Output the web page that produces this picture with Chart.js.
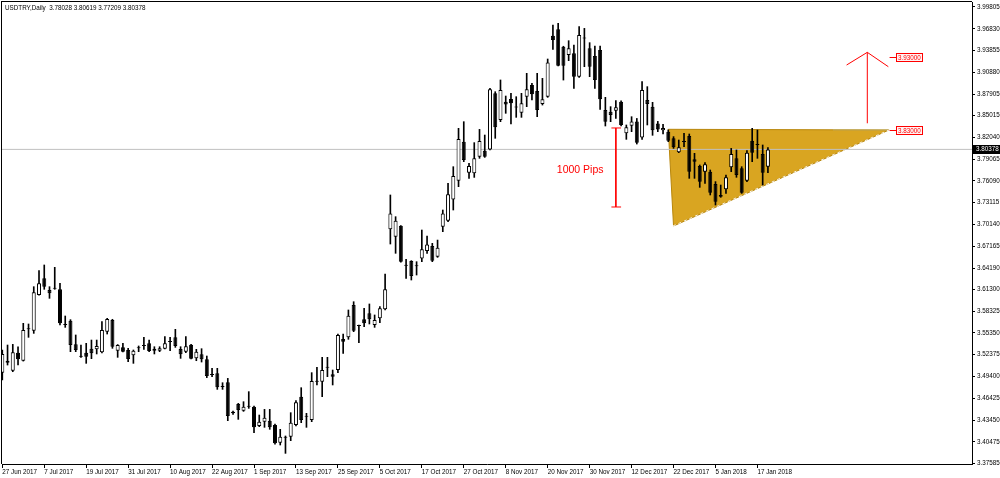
<!DOCTYPE html>
<html>
<head>
<meta charset="utf-8">
<script src="https://cdn.jsdelivr.net/npm/chart.js@4.4.1/dist/chart.umd.min.js"></script>
<style>
  html, body { margin: 0; padding: 0; background: #fff; }
  #wrap { width: 1000px; height: 478px; }
</style>
</head>
<body>
<div id="wrap"><canvas id="usdtry" width="1000" height="478"></canvas></div>
<script>
// USDTRY daily, one bar per trading day from 27 Jun 2017 to 19 Jan 2018
const symbolTitle = 'USDTRY,Daily  3.78028 3.80619 3.77209 3.80378';
const barsPerTick = 8;
const tickLabels = ['27 Jun 2017', '7 Jul 2017', '19 Jul 2017', '31 Jul 2017', '10 Aug 2017', '22 Aug 2017',
  '1 Sep 2017', '13 Sep 2017', '25 Sep 2017', '5 Oct 2017', '17 Oct 2017', '27 Oct 2017', '8 Nov 2017',
  '20 Nov 2017', '30 Nov 2017', '12 Dec 2017', '22 Dec 2017', '5 Jan 2018', '17 Jan 2018'];
const priceTicks = [3.99805, 3.96830, 3.93855, 3.90880, 3.87905, 3.85015, 3.82040, 3.79065, 3.76090, 3.73115,
  3.70140, 3.67165, 3.64190, 3.61300, 3.58325, 3.55350, 3.52375, 3.49400, 3.46425, 3.43450, 3.40475, 3.37585];

const opens = [
  3.4992, 3.5155, 3.5019, 3.5265, 3.5155, 3.5583, 3.5565, 3.6052, 3.6279, 3.6120,
  3.6138, 3.6129, 3.5642, 3.5701, 3.5378, 3.5219, 3.5265, 3.5319, 3.5310, 3.5269,
  3.5551, 3.5710, 3.5292, 3.5337, 3.5301, 3.5228, 3.5326, 3.5356, 3.5392, 3.5292,
  3.5292, 3.5319, 3.5410, 3.5474, 3.5315, 3.5278, 3.5374, 3.5187, 3.5242, 3.5174,
  3.4964, 3.4983, 3.4801, 3.4860, 3.4460, 3.4564, 3.4474, 3.4528, 3.4528, 3.4264,
  3.4323, 3.4337, 3.4278, 3.4037, 3.4105, 3.4119, 3.4278, 3.4664, 3.4392, 3.4346,
  3.4869, 3.4869, 3.5060, 3.4969, 3.5028, 3.5451, 3.5474, 3.5915, 3.5628, 3.5719,
  3.5801, 3.5642, 3.5733, 3.5856, 3.6947, 3.6847, 3.6997, 3.6452, 3.6515, 3.6447,
  3.6551, 3.6651, 3.6720, 3.6574, 3.6983, 3.7065, 3.7356, 3.7611, 3.8143, 3.7720,
  3.7711, 3.7938, 3.8020, 3.8038, 3.8803, 3.8439, 3.8689, 3.8725, 3.8612, 3.8539,
  3.8757, 3.8916, 3.8834, 3.8657, 3.8757, 3.9589, 3.9676, 3.9439, 3.9326, 3.9348,
  3.9030, 3.9553, 3.9417, 3.9312, 3.9394, 3.8575, 3.8552, 3.8566, 3.8689, 3.8257,
  3.8360, 3.8420, 3.8200, 3.8712, 3.8620, 3.8390, 3.8300, 3.8280, 3.8189, 3.7998,
  3.8143, 3.8221, 3.7902, 3.7811, 3.7734, 3.7734, 3.7566, 3.7393, 3.7493, 3.7793,
  3.7916, 3.7779, 3.7611, 3.8157, 3.8111, 3.7975, 3.78028];
const highs = [
  3.5301, 3.5369, 3.5378, 3.5346, 3.5665, 3.5656, 3.6165, 3.6383, 3.6461, 3.6165,
  3.6429, 3.6211, 3.5765, 3.5715, 3.5506, 3.5369, 3.5392, 3.5437, 3.5437, 3.5688,
  3.5733, 3.5720, 3.5375, 3.5392, 3.5324, 3.5301, 3.5356, 3.5474, 3.5437, 3.5346,
  3.5346, 3.5483, 3.5474, 3.5583, 3.5346, 3.5483, 3.5380, 3.5310, 3.5319, 3.5219,
  3.5051, 3.5051, 3.4855, 3.4914, 3.4469, 3.4573, 3.4596, 3.4733, 3.4537, 3.4414,
  3.4491, 3.4491, 3.4290, 3.4219, 3.4128, 3.4446, 3.4610, 3.4787, 3.4437, 3.4992,
  3.5065, 3.5201, 3.5201, 3.5028, 3.5519, 3.5519, 3.5847, 3.5960, 3.5642, 3.5869,
  3.5929, 3.5779, 3.5892, 3.6338, 3.7416, 3.7120, 3.7000, 3.6538, 3.6520, 3.6506,
  3.6938, 3.6856, 3.6756, 3.6801, 3.7211, 3.7575, 3.7802, 3.8325, 3.8416, 3.7847,
  3.8130, 3.8311, 3.8234, 3.8871, 3.8825, 3.8985, 3.8766, 3.8803, 3.8757, 3.8803,
  3.9076, 3.8939, 3.9076, 3.9007, 3.9271, 3.9735, 3.9758, 3.9445, 3.9521, 3.9462,
  3.9712, 3.9689, 3.9494, 3.9448, 3.9448, 3.8748, 3.8621, 3.8703, 3.8700, 3.8371,
  3.8484, 3.8460, 3.8962, 3.8894, 3.8680, 3.8420, 3.8380, 3.8303, 3.8212, 3.8166,
  3.8257, 3.8248, 3.7984, 3.7825, 3.7857, 3.7757, 3.7598, 3.7552, 3.7689, 3.8052,
  3.8030, 3.7802, 3.8021, 3.8325, 3.8302, 3.8098, 3.80619];
const lows = [
  3.4892, 3.5096, 3.5005, 3.5096, 3.5150, 3.5474, 3.5528, 3.6050, 3.6129, 3.6006,
  3.6129, 3.5642, 3.5610, 3.5278, 3.5278, 3.5201, 3.5119, 3.5183, 3.5247, 3.5260,
  3.5519, 3.5324, 3.5201, 3.5274, 3.5142, 3.5119, 3.5278, 3.5310, 3.5278, 3.5247,
  3.5278, 3.5315, 3.5292, 3.5337, 3.5187, 3.5265, 3.5180, 3.5155, 3.5137, 3.4924,
  3.4937, 3.4764, 3.4764, 3.4337, 3.4423, 3.4355, 3.4464, 3.4505, 3.4173, 3.4255,
  3.4246, 3.4219, 3.4018, 3.4005, 3.3891, 3.4064, 3.4264, 3.4310, 3.4246, 3.4323,
  3.4824, 3.4664, 3.4937, 3.4824, 3.4992, 3.5256, 3.5447, 3.5551, 3.5401, 3.5619,
  3.5656, 3.5610, 3.5674, 3.5847, 3.6747, 3.6620, 3.6500, 3.6278, 3.6256, 3.6324,
  3.6506, 3.6620, 3.6506, 3.6565, 3.6915, 3.7052, 3.7211, 3.7529, 3.7870, 3.7643,
  3.7656, 3.7916, 3.7929, 3.8029, 3.8189, 3.8416, 3.8530, 3.8384, 3.8475, 3.8475,
  3.8621, 3.8712, 3.8484, 3.8643, 3.8748, 3.9403, 3.9175, 3.8984, 3.9248, 3.8871,
  3.9021, 3.9166, 3.9030, 3.8871, 3.8584, 3.8357, 3.8416, 3.8461, 3.8357, 3.8175,
  3.8280, 3.8111, 3.8175, 3.8371, 3.8230, 3.8280, 3.8250, 3.8143, 3.8052, 3.7993,
  3.8075, 3.7643, 3.7643, 3.7520, 3.7575, 3.7416, 3.7279, 3.7384, 3.7438, 3.7734,
  3.7657, 3.7438, 3.7598, 3.7870, 3.7916, 3.7552, 3.77209];
const closes = [
  3.5247, 3.5128, 3.5269, 3.5174, 3.5574, 3.5590, 3.6088, 3.6211, 3.6165, 3.6074,
  3.6143, 3.5665, 3.5647, 3.5369, 3.5301, 3.5210, 3.5210, 3.5256, 3.5356, 3.5574,
  3.5724, 3.5346, 3.5369, 3.5278, 3.5178, 3.5292, 3.5330, 3.5360, 3.5287, 3.5319,
  3.5324, 3.5392, 3.5415, 3.5356, 3.5242, 3.5351, 3.5183, 3.5278, 3.5174, 3.4946,
  3.4960, 3.4792, 3.4797, 3.4400, 3.4437, 3.4482, 3.4528, 3.4532, 3.4246, 3.4323,
  3.4378, 3.4246, 3.4028, 3.4119, 3.4110, 3.4310, 3.4587, 3.4346, 3.4390, 3.4878,
  3.4874, 3.5028, 3.5065, 3.4937, 3.5506, 3.5415, 3.5770, 3.5565, 3.5629, 3.5665,
  3.5719, 3.5710, 3.5869, 3.6129, 3.7165, 3.7065, 3.6506, 3.6450, 3.6310, 3.6443,
  3.6674, 3.6742, 3.6520, 3.6697, 3.7165, 3.7425, 3.7675, 3.8180, 3.7893, 3.7811,
  3.7916, 3.8152, 3.7938, 3.8857, 3.8339, 3.8848, 3.8652, 3.8666, 3.8611, 3.8666,
  3.8857, 3.8789, 3.8575, 3.8721, 3.9225, 3.9530, 3.9180, 3.9180, 3.9417, 3.9030,
  3.9598, 3.9550, 3.9166, 3.8984, 3.8721, 3.8416, 3.8507, 3.8612, 3.8371, 3.8339,
  3.8420, 3.8130, 3.8848, 3.8657, 3.8300, 3.8310, 3.8330, 3.8157, 3.8066, 3.8066,
  3.8140, 3.7734, 3.7870, 3.7598, 3.7834, 3.7447, 3.7325, 3.7416, 3.7657, 3.7975,
  3.7688, 3.7447, 3.7993, 3.7993, 3.8098, 3.7720, 3.80378];

// drawn objects on the chart, in bar index / price units
const triangle = [[127, 3.8312], [169.1, 3.8303], [128, 3.6993], [127, 3.8312]];
const triangleTopLine = [[158.4, 3.8305], [169.1, 3.8303]];
const pipsBar = { x: 117, top: 3.8330, bottom: 3.7252, cap: 1.0 };
const pipsText = '1000 Pips';
const pipsTextAt = [110.2, 3.7757];
const arrowStem = [[164.95, 3.8394], [164.95, 3.9362]];
const arrowHead = [[161.0, 3.9189], [164.95, 3.9362], [168.96, 3.9166]];
const targetLevels = [3.93, 3.83];
const targetTagFrom = 169.2;
const targetTagBox = 170.4;

// pixel frame of the MetaTrader window
const AREA = { left: 2, top: 2, right: 972, bottom: 464 };
const barX0 = 2.3, barStep = 5.244;
const xMin = (AREA.left - barX0) / barStep;
const xMax = (AREA.right - barX0) / barStep;
const yPx0 = 7, yTopVal = 3.99805, pxPerUnit = 733;
const yMax = yTopVal + (yPx0 - AREA.top) / pxPerUnit;
const yMin = yTopVal - (AREA.bottom - yPx0) / pxPerUnit;

const FONT = 'Liberation Sans';
const pts = arr => arr.map(p => ({ x: p[0], y: p[1] }));

const wicks = highs.map((h, i) => ({ x: i, y: [lows[i], h] }));
const bodies = opens.map((o, i) => ({ x: i, y: [Math.min(o, closes[i]), Math.max(o, closes[i])] }));
const bodyFill = opens.map((o, i) => (closes[i] > o && closes[i] - o > 0.0008) ? '#ffffff' : '#000000');
const lastClose = closes[closes.length - 1];

function seg(points, color, order, extra) {
  return Object.assign({
    type: 'line', data: pts(points), borderColor: color, borderWidth: 1,
    pointRadius: 0, fill: false, tension: 0, order: order
  }, extra || {});
}

const overlay = {
  id: 'overlay',
  beforeDraw(chart) {
    const c = chart.ctx;
    c.save(); c.fillStyle = '#fff'; c.fillRect(0, 0, chart.width, chart.height); c.restore();
  },
  afterDraw(chart) {
    const { ctx, chartArea: a, scales: { x, y } } = chart;
    ctx.save();
    ctx.fillStyle = '#000';
    ctx.fillRect(a.left - 1, a.top - 1, a.right - a.left + 1, 1);
    ctx.fillRect(a.left - 1, a.top - 1, 1, a.bottom - a.top + 1);

    ctx.font = '6.3px "' + FONT + '"';
    ctx.textBaseline = 'middle';
    ctx.textAlign = 'left';
    ctx.fillText(symbolTitle, a.left + 3, a.top + 6);

    ctx.fillStyle = '#ff0000';
    ctx.font = '10.5px "' + FONT + '"';
    ctx.textAlign = 'center';
    ctx.fillText(pipsText, x.getPixelForValue(pipsTextAt[0]), y.getPixelForValue(pipsTextAt[1]));

    ctx.font = '6.3px "' + FONT + '"';
    ctx.textAlign = 'left';
    targetLevels.forEach(lv => {
      const py = Math.round(y.getPixelForValue(lv)) + 0.5;
      const x0 = x.getPixelForValue(targetTagFrom);
      const x1 = Math.round(x.getPixelForValue(targetTagBox)) + 0.5;
      const txt = lv.toFixed(5);
      const w = Math.round(ctx.measureText(txt).width) + 3;
      ctx.strokeStyle = '#ff0000';
      ctx.lineWidth = 1;
      ctx.beginPath(); ctx.moveTo(x0, py); ctx.lineTo(x1, py); ctx.stroke();
      ctx.fillStyle = '#fff2f2';
      ctx.fillRect(x1, py - 4, w, 8);
      ctx.strokeRect(x1, py - 4, w, 8);
      ctx.fillStyle = '#ff0000';
      ctx.fillText(txt, x1 + 1.5, py + 0.5);
    });

    const cy = Math.round(y.getPixelForValue(lastClose));
    ctx.fillStyle = '#000';
    ctx.fillRect(a.right + 1, cy - 4, chart.width - a.right - 1, 9);
    ctx.fillStyle = '#fff';
    ctx.fillText(lastClose.toFixed(5), a.right + 4, cy + 0.5);
    ctx.restore();
  }
};

new Chart(document.getElementById('usdtry'), {
  type: 'bar',
  data: {
    datasets: [
      seg(triangle, '#b8860b', 10, { fill: 'shape', backgroundColor: '#d9a521' }),
      seg([[127.9, 3.6993], [169.1, 3.8303]], 'rgba(255,255,255,0.9)', 9, { borderDash: [3, 3] }),
      seg(triangleTopLine, '#c4b26a', 9),
      seg([[xMin, lastClose], [xMax, lastClose]], '#c0c0c0', 8),
      {
        type: 'bar', data: wicks, backgroundColor: '#000', borderWidth: 0,
        barThickness: 1, maxBarThickness: 1, grouped: false, order: 3
      },
      {
        type: 'bar', data: bodies, backgroundColor: bodyFill, borderColor: '#000', borderWidth: 1,
        borderSkipped: false, barThickness: 4, maxBarThickness: 4, minBarLength: 1,
        inflateAmount: 0, grouped: false, order: 2
      },
      seg([[pipsBar.x, pipsBar.top], [pipsBar.x, pipsBar.bottom]], '#ff0000', 1),
      seg([[pipsBar.x - pipsBar.cap * 0.85, pipsBar.top], [pipsBar.x + pipsBar.cap, pipsBar.top]], '#ff0000', 1),
      seg([[pipsBar.x - pipsBar.cap * 0.85, pipsBar.bottom], [pipsBar.x + pipsBar.cap, pipsBar.bottom]], '#ff0000', 1),
      seg(arrowStem, '#ff0000', 1),
      seg(arrowHead, '#ff0000', 1)
    ]
  },
  options: {
    responsive: false,
    animation: false,
    devicePixelRatio: 1,
    layout: { padding: { left: AREA.left, top: AREA.top, right: 0, bottom: 0 } },
    plugins: { legend: { display: false }, tooltip: { enabled: false } },
    scales: {
      x: {
        type: 'linear', position: 'bottom', min: xMin, max: xMax, offset: false,
        grid: { drawOnChartArea: false, drawTicks: true, tickLength: 4, color: '#000', offset: false },
        border: { color: '#000', width: 1 },
        ticks: {
          autoSkip: false, maxRotation: 0, minRotation: 0, align: 'start', padding: 0,
          color: '#000', font: { family: FONT, size: 6.3 },
          callback: v => tickLabels[Math.round(v / barsPerTick)] || ''
        },
        afterBuildTicks: s => { s.ticks = tickLabels.map((_, k) => ({ value: k * barsPerTick })); },
        afterFit: s => { s.height = 478 - AREA.bottom; s.paddingLeft = 0; s.paddingRight = 0; }
      },
      y: {
        type: 'linear', position: 'right', min: yMin, max: yMax,
        grid: { drawOnChartArea: false, drawTicks: true, tickLength: 3, color: '#000' },
        border: { color: '#000', width: 1 },
        ticks: {
          autoSkip: false, padding: 2, crossAlign: 'near', color: '#000',
          font: { family: FONT, size: 6.3 },
          callback: v => v.toFixed(5)
        },
        afterBuildTicks: s => { s.ticks = priceTicks.map(v => ({ value: v })); },
        afterFit: s => { s.width = 1000 - AREA.right; s.paddingTop = 0; s.paddingBottom = 0; }
      }
    }
  },
  plugins: [overlay]
});
</script>
</body>
</html>
